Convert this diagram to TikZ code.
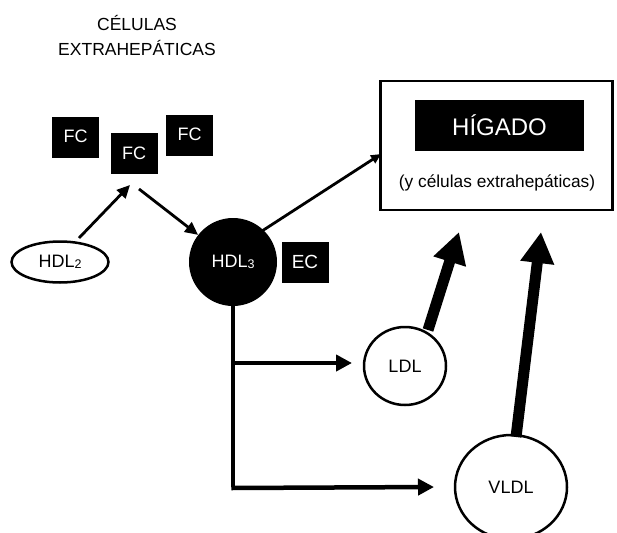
\documentclass[tikz,border=0pt]{standalone}
\usepackage{fontspec}
\setmainfont{Liberation Sans}
\usetikzlibrary{arrows.meta,shapes.geometric}
\begin{document}
\begin{tikzpicture}[x=1pt,y=-1pt,
  blackbox/.style={fill=black,text=white,minimum width=47pt,minimum height=41pt,inner sep=0pt,font=\fontsize{18}{21}\selectfont},
  particle/.style={ellipse,draw=black,line width=2.5pt,fill=white,inner sep=0pt,font=\fontsize{18}{21}\selectfont},
  thinarrow/.style={line width=2.8pt,-{Triangle[length=13pt,width=12pt]}},
  medarrow/.style={line width=4.5pt,-{Triangle[length=16pt,width=16pt]}},
  thickarrow/.style={line width=11pt,-{Triangle[length=31pt,width=32pt]}},
  lbl/.style={font=\fontsize{17.5}{25}\selectfont,align=center}
]
\useasboundingbox (0,0) rectangle (617,532);
% title
\node[lbl] (title) at (137,35) {CÉLULAS\\EXTRAHEPÁTICAS};
% FC boxes
\node[blackbox] (fc1) at (75.5,137.5) {\raisebox{3pt}{FC}};
\node[blackbox] (fc2) at (134,153.5) {FC};
\node[blackbox] (fc3) at (189.5,135.5) {\raisebox{3pt}{FC}};
% HDL2
\node[particle,minimum width=97pt,minimum height=41pt] (hdl2) at (60,262) {HDL\raisebox{-1.5pt}{\fontsize{12.5}{12}\selectfont 2}};
% HDL3
\node[circle,fill=black,text=white,minimum size=88pt,inner sep=0pt,font=\fontsize{18}{21}\selectfont] (hdl3) at (233,262) {HDL\raisebox{-1.5pt}{\fontsize{12.5}{12}\selectfont 3}};
% EC
\node[blackbox,font=\fontsize{19}{22}\selectfont] (ec) at (305,262) {EC};
% Higado box
\node[draw=black,line width=2.5pt,minimum width=232pt,minimum height=129pt,inner sep=0pt] (liver) at (496.5,145.5) {};
\node[fill=black,text=white,minimum width=169pt,minimum height=51pt,inner sep=0pt,font=\fontsize{24}{28}\selectfont] (higado) at (499.5,125.5) {HÍGADO};
\node[lbl,font=\fontsize{17.3}{21}\selectfont] (sub) at (497,183) {(y células extrahepáticas)};
% LDL, VLDL
\node[particle,minimum width=82pt,minimum height=78pt] (ldl) at (405,366) {LDL};
\node[particle,minimum width=112pt,minimum height=104pt] (vldl) at (511,487) {VLDL};
% coordinates
\coordinate (fcin) at (130,185);
\coordinate (fcout) at (139,189);
\coordinate (hdl2out) at (79,238);
\coordinate (hdl3out) at (262,231);
\coordinate (liverin) at (381,154);
\coordinate (tipA) at (459,232);
\coordinate (tipB) at (541,232);
\coordinate (j1) at (233,363);
\coordinate (j2) at (233,488);
\coordinate (ldlin) at (352,363);
\coordinate (vldlin) at (434,487);
\coordinate (ldlout) at (428,330);
\coordinate (vldlout) at (516,437);
% arrows
\draw[thinarrow] (hdl2out) -- (fcin);
\draw[thinarrow] (fcout) -- (hdl3);
\draw[line width=2.8pt,-{Triangle[length=10pt,width=9pt]}] (hdl3out) -- (liverin);
\draw[line width=3.5pt] (hdl3.south) -- ([yshift=1.5pt]j2);
\draw[medarrow] (j1) -- (ldlin);
\draw[medarrow] ([xshift=-1.75pt]j2) -- (vldlin);
\draw[thickarrow] (ldlout) -- (tipA);
\draw[thickarrow] (vldlout) -- (tipB);
\end{tikzpicture}
\end{document}
